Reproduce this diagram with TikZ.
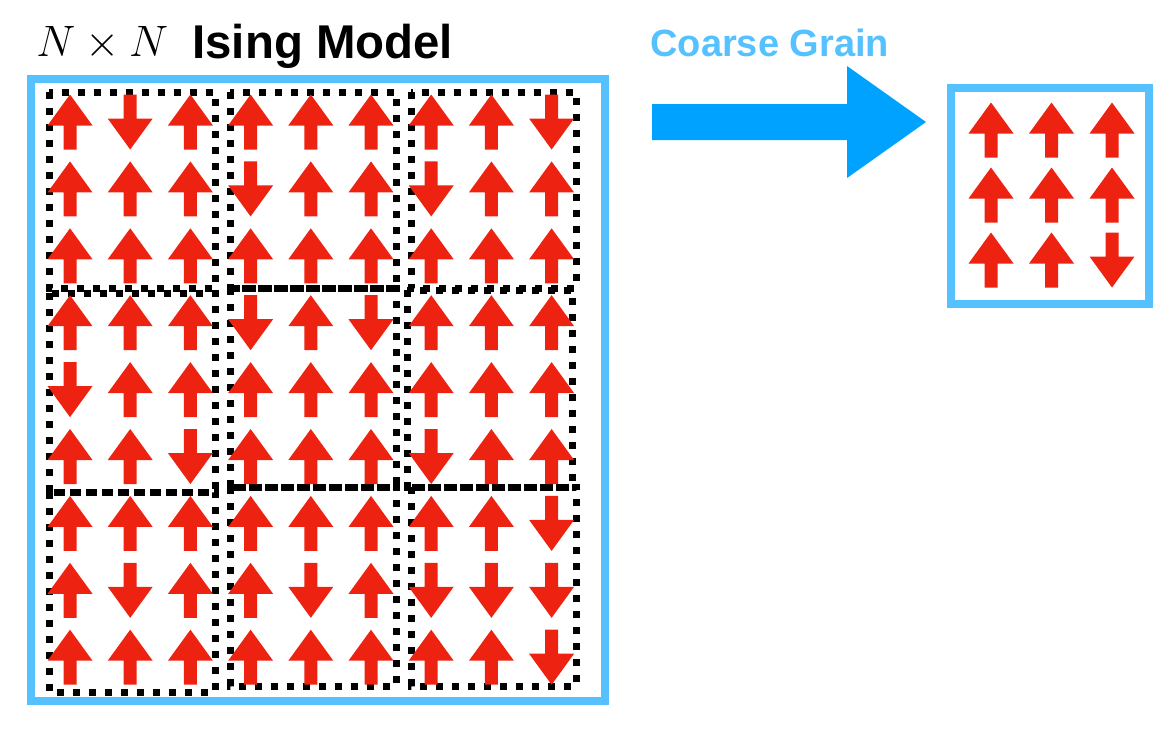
\documentclass[tikz,border=0pt]{standalone}
\usepackage{fontspec}
\usepackage{xcolor}
\usepackage{tikz}
\usetikzlibrary{positioning}

\newfontfamily\helv{Liberation Sans}
\definecolor{framecol}{RGB}{86,193,255}
\definecolor{cgblue}{RGB}{0,162,255}
\definecolor{spinred}{RGB}{238,34,16}

\begin{document}
\begin{tikzpicture}[
            x=0.5pt, y=-0.5pt,
            frame/.style={draw=framecol, line width=4pt, inner sep=0pt},
            block/.style={draw=black, line width=3.5pt, dash pattern=on 3.5pt off 4.5pt},
            spin/.pic={\fill[spinred] (0,-27.5*#1) -- (22.5,3.5*#1) -- (6.5,3.5*#1) -- (6.5,27.5*#1)
                                      -- (-6.5,27.5*#1) -- (-6.5,3.5*#1) -- (-22.5,3.5*#1) -- cycle;}
        ]
            \useasboundingbox (0,0) rectangle (1170,736);

            % Title
            \node[anchor=base west, inner sep=0pt, font=\huge, scale=1.06, transform shape] (nn) at (36,56) {$N\times N$};
            \node[anchor=base west, inner sep=0pt, font=\helv\bfseries\fontsize{23.7}{28}\selectfont] (ising) at (192,58) {Ising Model};

            % Lattice
            \node[frame, minimum width=287pt, minimum height=311pt] (lat) at (318,390) {};
            \foreach \xa/\ya/\xb/\yb in {49/92/215/288, 230/92/396/288, 411/92/576/288,
                                         49/293/215/492, 230/288/396/487, 407/290/572/487,
                                         49/492/215/692, 230/487/396/686, 411/487/576/686}
                \draw[block] (\xa,\ya) rectangle (\xb,\yb);
            \foreach \row [count=\j from 0] in {{1,-1,1,1,1,1,1,1,-1}, {1,1,1,-1,1,1,-1,1,1},
                                                 {1,1,1,1,1,1,1,1,1}, {1,1,1,-1,1,-1,1,1,1},
                                                 {-1,1,1,1,1,1,1,1,1}, {1,1,-1,1,1,1,-1,1,1},
                                                 {1,1,1,1,1,1,1,1,-1}, {1,-1,1,1,-1,1,-1,-1,-1},
                                                 {1,1,1,1,1,1,1,1,-1}}
                \foreach \s [count=\i from 0] in \row
                    \pic at (70+60.2*\i, 122+66.9*\j) {spin=\s};

            % Coarse grain arrow
            \node[anchor=base west, inner sep=0pt, text=framecol, font=\helv\bfseries\fontsize{19}{23}\selectfont] (cgtext) at (650,56) {Coarse Grain};
            \fill[cgblue] (652,104) -- (847,104) -- (847,66) -- (926,122) -- (847,178) -- (847,140) -- (652,140) -- cycle;

            % Coarse lattice
            \node[frame, minimum width=99pt, minimum height=108pt] (cg) at (1050,196) {};
            \foreach \row [count=\j from 0] in {{1,1,1}, {1,1,1}, {1,1,-1}}
                \foreach \s [count=\i from 0] in \row
                    \pic at (991+60.5*\i, 130+65*\j) {spin=\s};

        \end{tikzpicture}
\end{document}
